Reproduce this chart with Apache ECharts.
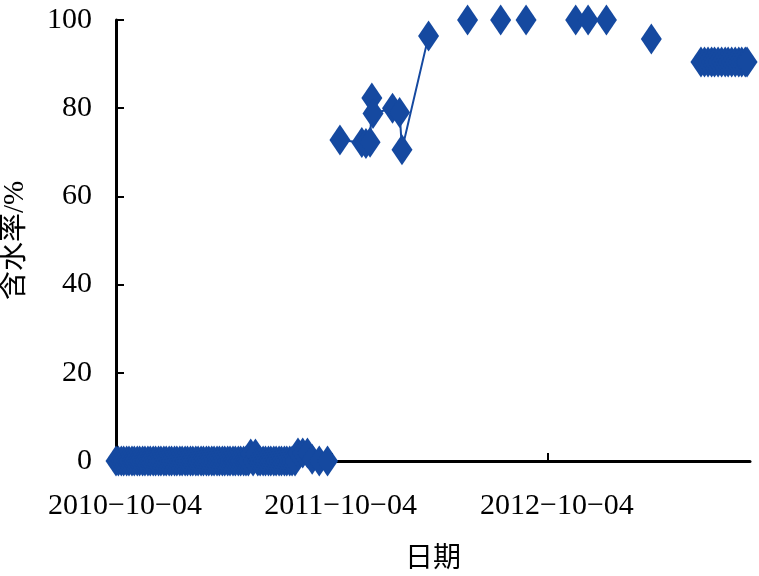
<!DOCTYPE html>
<html>
<head>
<meta charset="utf-8">
<title>含水率</title>
<script src="https://cdn.jsdelivr.net/npm/echarts@6/dist/echarts.min.js"></script>
<style>
  html, body { margin: 0; padding: 0; background: #fff; }
  #main { width: 759px; height: 576px; }
</style>
</head>
<body>
<div id="main"></div>
<script>
// sample dates and water content (%), null = break in the line
var sampleDates = [
  '2010-10-04','2010-10-08','2010-10-13','2010-10-17','2010-10-22','2010-10-26','2010-10-31',
  '2010-11-04','2010-11-09','2010-11-13','2010-11-18','2010-11-22','2010-11-27',
  '2010-12-01','2010-12-06','2010-12-10','2010-12-15','2010-12-19','2010-12-24','2010-12-28',
  '2011-01-02','2011-01-06','2011-01-11','2011-01-15','2011-01-20','2011-01-24','2011-01-29',
  '2011-02-02','2011-02-07','2011-02-11','2011-02-16','2011-02-20','2011-02-25',
  '2011-03-01','2011-03-06','2011-03-10','2011-03-15','2011-03-19','2011-03-24','2011-03-28',
  '2011-04-02','2011-04-06','2011-04-11','2011-04-15','2011-04-20','2011-04-24','2011-04-29',
  '2011-05-03','2011-05-08','2011-05-12','2011-05-16','2011-05-20','2011-05-24','2011-05-28',
  '2011-06-01','2011-06-05','2011-06-10','2011-06-14','2011-06-19','2011-06-23','2011-06-28',
  '2011-07-02','2011-07-07','2011-07-11','2011-07-16','2011-07-20','2011-07-25','2011-07-29',
  '2011-08-03','2011-08-08','2011-08-16','2011-08-24','2011-09-01','2011-09-13','2011-09-27',
  '2011-10-10',
  '2011-10-18','2011-11-24','2011-12-01','2011-12-08','2011-12-11','2011-12-13',
  '2012-01-15','2012-01-27','2012-01-31','2012-03-16',
  '2012-04-15','2012-05-21','2012-06-15','2012-07-16','2012-08-05','2012-08-28',
  '2012-10-15','2012-11-20','2012-12-11','2013-01-11',
  '2013-02-20','2013-03-28','2013-05-10',
  '2013-06-20','2013-06-26','2013-07-02','2013-07-08','2013-07-13','2013-07-19','2013-07-25',
  '2013-07-31','2013-08-05','2013-08-11','2013-08-17','2013-08-23','2013-08-28','2013-09-03','2013-09-06'
];
var moisture = [
  0,0,0,0,0,0,0,
  0,0,0,0,0,0,
  0,0,0,0,0,0,0,
  0,0,0,0,0,0,0,
  0,0,0,0,0,0,
  0,0,0,0,0,0,0,
  0,0,0,0,0,0,0,
  0,0,0,0,1.6,0,1.6,
  0,0,0,0,0,0,0,
  0,0,0,0,0,0,0,
  0,1.8,1.8,1.8,0.4,0,0,
  null,
  72.8,72.2,72.0,72.3,82.3,78.8,
  80.0,79.0,70.6,96.4,
  null,100,null,100,null,100,
  null,100,100,100,
  null,95.7,null,
  90.5,90.5,90.5,90.5,90.5,90.5,90.5,
  90.5,90.5,90.5,90.5,90.5,90.5,90.5,90.5
];
var tickDates = ['2010-10-04','2011-10-04','2012-10-04'];
var tickLabels = ['2010\u221210\u221204','2011\u221210\u221204','2012\u221210\u221204'];
var axisEnd = '2013-09-11';

var base = Date.parse('2010-10-04');
function toDay(s) { return (Date.parse(s) - base) / 86400000; }

var seriesData = sampleDates.map(function (d, i) {
  return [toDay(d), moisture[i] == null ? '-' : moisture[i]];
});
var tickDays = tickDates.map(toDay);

var chart = echarts.init(document.getElementById('main'));
var serif = "'Liberation Serif', 'Times New Roman', serif";
chart.setOption({
  animation: false,
  backgroundColor: '#fff',
  grid: { left: 116, right: 9, top: 20, bottom: 115, containLabel: false, outerBoundsMode: 'none' },
  xAxis: {
    type: 'value',
    min: 0,
    max: toDay(axisEnd),
    name: '日期',
    nameLocation: 'middle',
    nameGap: 81,
    nameTextStyle: { fontFamily: "'Noto Sans CJK SC'", fontSize: 28, color: '#000' },
    axisLine: { lineStyle: { color: '#000', width: 3 } },
    axisTick: { inside: true, length: 8, lineStyle: { color: '#000', width: 2 }, customValues: tickDays },
    axisLabel: {
      customValues: tickDays,
      fontFamily: serif, fontSize: 30, color: '#000', margin: 30,
      padding: [0, 0, 0, 18],
      formatter: function (v) {
        var k = tickDays.indexOf(v);
        return k < 0 ? '' : tickLabels[k];
      }
    },
    splitLine: { show: false }
  },
  yAxis: {
    type: 'value',
    min: 0,
    max: 100,
    interval: 20,
    name: '含水率/%',
    nameLocation: 'middle',
    nameGap: 86,
    nameRotate: 90,
    nameTextStyle: { fontFamily: "'Liberation Serif', 'Noto Sans CJK SC'", fontSize: 29, color: '#000' },
    axisLine: { show: true, lineStyle: { color: '#000', width: 3 } },
    axisTick: { show: true, inside: true, length: 8, lineStyle: { color: '#000', width: 2 } },
    axisLabel: { fontFamily: serif, fontSize: 30, color: '#000', margin: 24 },
    splitLine: { show: false }
  },
  series: [{
    type: 'line',
    data: seriesData,
    connectNulls: false,
    symbol: 'diamond',
    symbolSize: [21, 31],
    showSymbol: true,
    clip: false,
    itemStyle: { color: '#1549a0' },
    lineStyle: { color: '#1549a0', width: 2 }
  }]
});
</script>
</body>
</html>
